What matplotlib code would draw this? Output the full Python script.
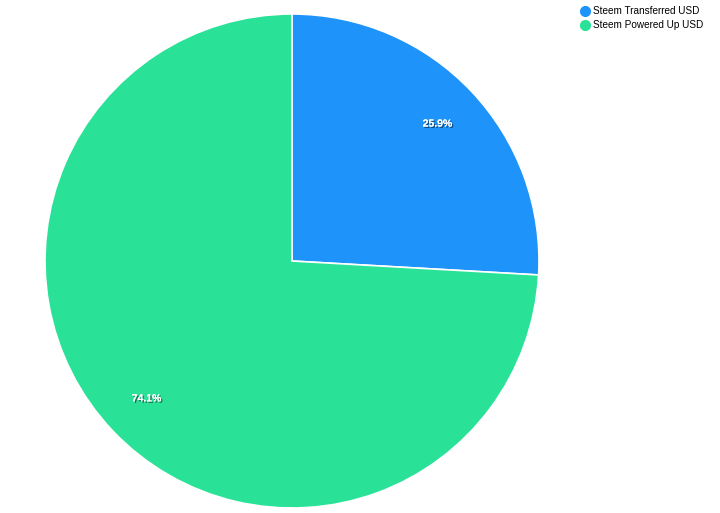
import matplotlib
matplotlib.use("Agg")
import matplotlib.pyplot as plt
import matplotlib.patheffects as pe
from matplotlib.lines import Line2D

labels = ["Steem Transferred USD", "Steem Powered Up USD"]
values = [25.9, 74.1]
colors = ["#1e93fa", "#29e298"]

fig = plt.figure(figsize=(7.2, 5.13), dpi=100)
ax = fig.add_axes([45 / 720, 5 / 513, 494 / 720, 494 / 513])

wedges, texts, autotexts = ax.pie(
    values, colors=colors, startangle=90, counterclock=False,
    autopct="%.1f%%", pctdistance=0.81, radius=1,
    wedgeprops=dict(edgecolor="white", linewidth=1.2),
    textprops=dict(color="white", fontsize=7.5, fontweight="bold", family="Liberation Sans"),
)
for t in autotexts:
    t.set_path_effects([pe.withSimplePatchShadow(offset=(1, -1), shadow_rgbFace="black", alpha=0.5), pe.Normal()])
ax.set_xlim(-1, 1)
ax.set_ylim(-1, 1)
ax.set_aspect("equal")

handles = [Line2D([], [], marker="o", linestyle="", markersize=7, markerfacecolor=c, markeredgecolor=c) for c in colors]
fig.legend(handles, labels, loc="upper left", bbox_to_anchor=(573 / 720, 1.0), frameon=False,
           prop=dict(family="Liberation Sans", size=7.2), handletextpad=0.2, labelspacing=0.45,
           borderaxespad=0.2, handlelength=1.2)

fig.savefig("out.png", dpi=100)
